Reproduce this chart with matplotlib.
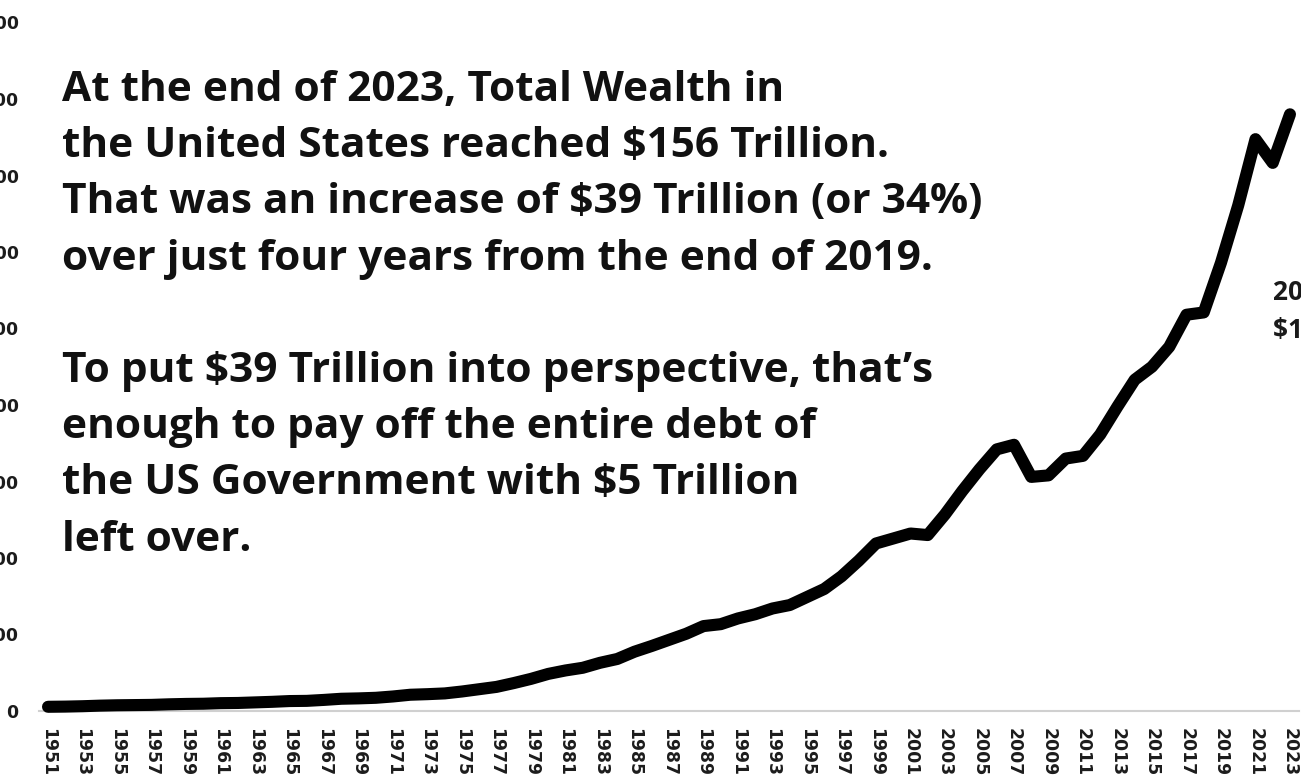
import matplotlib.pyplot as plt
from matplotlib.ticker import FuncFormatter

# Household net worth, end of year, billions of dollars
years = list(range(1951, 2024))
wealth = [
    1100, 1150, 1250, 1400, 1500, 1550, 1600, 1750, 1850, 1900,   # 1951-1960
    2050, 2100, 2250, 2400, 2600, 2650, 2900, 3200, 3300, 3450,   # 1961-1970
    3800, 4250, 4400, 4600, 5100, 5700, 6300, 7300, 8400, 9700,   # 1971-1980
    10600, 11300, 12600, 13600, 15500, 17000, 18600, 20200, 22200, 22700,  # 1981-1990
    24200, 25300, 26800, 27700, 29800, 31900, 35200, 39300, 43800, 45100,  # 1991-2000
    46400, 46000, 51400, 57500, 63200, 68400, 69600, 61200, 61600, 66000,  # 2001-2010
    66700, 72300, 79600, 86600, 90000, 95200, 103600, 104200, 117200, 132200,  # 2011-2020
    149500, 143300, 156000,                                       # 2021-2023
]

y_ticks = list(range(0, 180001, 20000))

headline = (
    "At the end of 2023, Total Wealth in\n"
    "the United States reached $156 Trillion.\n"
    "That was an increase of $39 Trillion (or 34%)\n"
    "over just four years from the end of 2019.\n"
    "\n"
    "To put $39 Trillion into perspective, that\u2019s\n"
    "enough to pay off the entire debt of\n"
    "the US Government with $5 Trillion\n"
    "left over."
)
end_label = "2023 Total\n$156 Trillion"

W, H = 1301, 777
fig = plt.figure(figsize=(W / 100, H / 100), dpi=100)
ax = fig.add_axes([39.4 / W, (H - 711) / H, (1298.6 - 39.4) / W, (711 - 22.5) / H])

ax.plot(years, wealth, color="black", lw=8.7, solid_joinstyle="round",
        solid_capstyle="round", clip_on=False, zorder=3)

ax.set_xlim(1950.5, 2023.5)
ax.set_ylim(0, 180000)
ax.set_xticks(years[::2])
ax.set_xticklabels([str(y) for y in years[::2]], rotation=-90, va="top", ha="center")
ax.set_yticks(y_ticks)
ax.yaxis.set_major_formatter(FuncFormatter(lambda v, _: f"{int(v):,}"))

for side in ("top", "right", "left"):
    ax.spines[side].set_visible(False)
ax.spines["bottom"].set_color("#d0d0d0")
ax.spines["bottom"].set_linewidth(1.5)
ax.tick_params(axis="both", length=0, labelsize=12.4, labelcolor="#1c1c1c")
ax.tick_params(axis="x", pad=12)
ax.tick_params(axis="y", pad=15)
for lab in ax.get_xticklabels() + ax.get_yticklabels():
    lab.set_fontweight("bold")

fig.text(62 / W, 1 - 70 / H, headline, ha="left", va="top",
         fontsize=30.5, fontweight="bold", family="Open Sans",
         color="#111111", linespacing=1.49)

ax.text(2022, 104500, end_label, ha="left", va="center", fontsize=19,
        fontweight="bold", family="Open Sans", color="#1a1a1a",
        linespacing=1.55, clip_on=False)

fig.savefig("out.png", dpi=100)
